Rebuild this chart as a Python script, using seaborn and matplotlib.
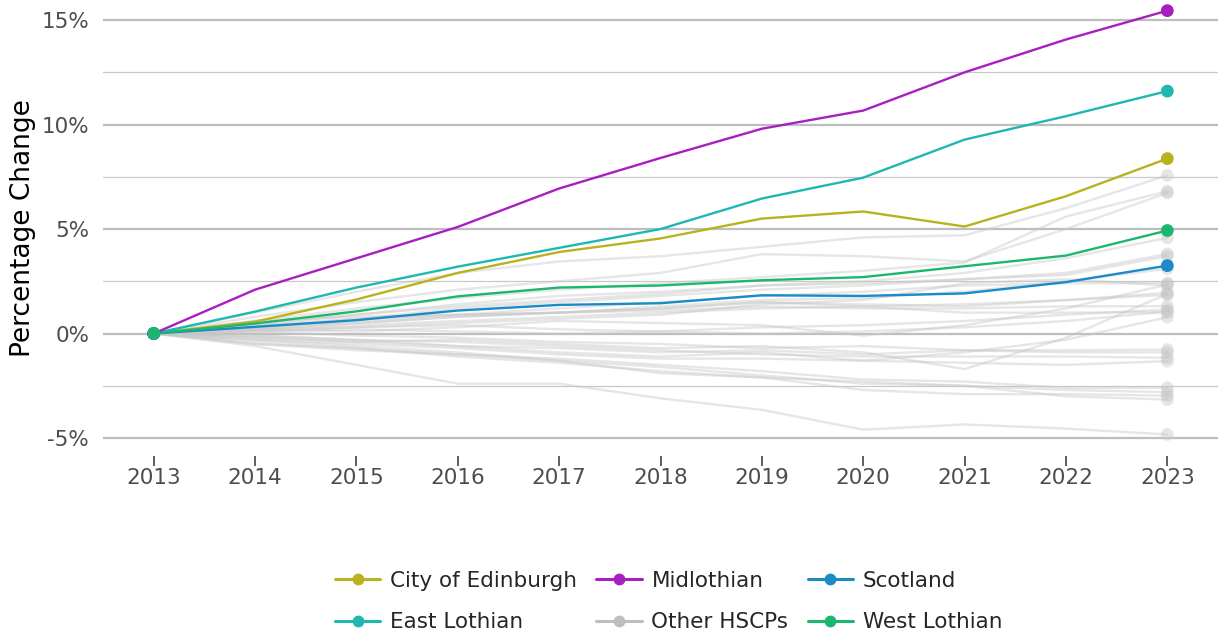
import pandas as pd
import matplotlib.pyplot as plt
import seaborn as sns
from matplotlib.lines import Line2D
from matplotlib.ticker import FuncFormatter, MultipleLocator

# Percentage change since 2013
years = list(range(2013, 2024))

city_of_edinburgh = [0, 0.57, 1.63, 2.9, 3.9, 4.55, 5.5, 5.84, 5.12, 6.57, 8.37]
east_lothian = [0, 1.05, 2.2, 3.2, 4.1, 5.0, 6.46, 7.46, 9.28, 10.4, 11.6]
midlothian = [0, 2.1, 3.6, 5.1, 6.94, 8.4, 9.8, 10.67, 12.5, 14.07, 15.45]
scotland = [0, 0.32, 0.64, 1.1, 1.37, 1.45, 1.83, 1.8, 1.92, 2.46, 3.25]
west_lothian = [0, 0.48, 1.06, 1.78, 2.2, 2.3, 2.55, 2.7, 3.22, 3.73, 4.93]

# other HSCPs
other_hscps = [
    [0, 1.0, 2.0, 2.9, 3.45, 3.7, 4.15, 4.6, 4.7, 6.0, 7.57],
    [0, 0.8, 1.5, 2.1, 2.5, 2.9, 3.8, 3.7, 3.45, 5.0, 6.73],
    [0, 0.6, 1.2, 1.7, 2.1, 2.4, 2.7, 3.0, 3.4, 5.6, 6.81],
    [0, 0.4, 0.9, 1.4, 1.8, 2.0, 2.3, 2.5, 2.9, 3.6, 4.58],
    [0, 0.3, 0.7, 1.2, 1.5, 1.8, 2.1, 2.3, 2.6, 2.9, 3.81],
    [0, 0.5, 0.9, 1.3, 1.6, 1.9, 2.3, 2.4, 2.6, 2.8, 3.70],
    [0, 0.2, 0.5, 0.8, 1.0, 1.3, 1.6, 1.7, 2.0, 2.5, 3.1],
    [0, 0.3, 0.6, 0.9, 1.2, 1.5, 1.8, 2.0, 2.3, 2.4, 2.42],
    [0, 0.1, 0.3, 0.5, 0.7, 0.9, 1.4, 1.6, 2.4, 2.6, 2.3],
    [0, 0.2, 0.4, 0.6, 0.8, 1.0, 1.2, 1.3, 1.4, 1.6, 1.95],
    [0, -0.2, -0.4, -0.3, -0.5, -0.7, -0.6, -0.9, -1.7, -0.2, 1.9],
    [0, 0.4, 0.7, 0.9, 1.0, 1.1, 1.3, 1.2, 1.2, 1.3, 1.31],
    [0, 0.1, 0.2, 0.1, 0.0, 0.1, 0.3, 0.4, 0.6, 0.9, 1.15],
    [0, 0.3, 0.5, 0.8, 1.0, 1.2, 1.5, 1.3, 1.0, 1.0, 1.02],
    [0, -0.1, -0.3, -0.6, -0.9, -1.1, -0.9, -1.3, -0.9, -0.3, 0.78],
    [0, -0.2, -0.4, -0.6, -0.7, -0.9, -0.8, -1.0, -0.8, -0.8, -0.77],
    [0, -0.1, -0.3, -0.4, -0.6, -0.8, -1.0, -1.1, -1.1, -1.1, -1.16],
    [0, -0.3, -0.5, -0.7, -1.0, -1.2, -1.2, -1.3, -1.4, -1.5, -1.32],
    [0, -0.5, -0.8, -1.0, -1.2, -1.5, -1.8, -2.2, -2.3, -2.6, -2.6],
    [0, -0.4, -0.7, -1.0, -1.3, -1.6, -2.0, -2.4, -2.5, -2.7, -2.81],
    [0, -0.5, -0.7, -1.1, -1.4, -1.8, -2.1, -2.7, -2.9, -2.9, -2.97],
    [0, -0.3, -0.6, -0.9, -1.3, -1.9, -2.1, -2.3, -2.5, -3.0, -3.16],
    [0, -0.6, -1.5, -2.4, -2.4, -3.1, -3.65, -4.6, -4.35, -4.55, -4.83],
    [0, 0.6, 0.8, 0.9, 1.0, 1.2, 1.5, 1.4, 1.3, 1.6, 1.85],
    [0, 0.2, 0.1, 0.3, 0.6, 0.5, 0.4, -0.1, 0.4, 1.2, 2.35],
    [0, 0.1, -0.1, -0.2, -0.4, -0.5, -0.7, -0.6, -0.8, -0.9, -0.9],
    [0, 0.2, 0.3, 0.4, 0.2, 0.1, 0.0, 0.1, 0.3, 0.6, 1.05],
]

highlight = {
    'City of Edinburgh': city_of_edinburgh,
    'East Lothian': east_lothian,
    'Midlothian': midlothian,
    'Scotland': scotland,
    'West Lothian': west_lothian,
}
colours = {
    'City of Edinburgh': '#B9B21E',
    'East Lothian': '#1EB8B0',
    'Midlothian': '#A81EC0',
    'Scotland': '#1A8BC6',
    'West Lothian': '#1DB66F',
    'Other HSCPs': '#BEBEBE',
}

rows = []
for i, vals in enumerate(other_hscps):
    for y, v in zip(years, vals):
        rows.append({'Year': y, 'Area': f'HSCP {i}', 'Value': v})
grey_df = pd.DataFrame(rows)

rows = []
for name, vals in highlight.items():
    for y, v in zip(years, vals):
        rows.append({'Year': y, 'Area': name, 'Value': v})
hl_df = pd.DataFrame(rows)

sns.set_theme(style='white')
plt.rcParams['font.family'] = ['DejaVu Sans']

fig = plt.figure(figsize=(12.18, 6.35), dpi=100)
ax = fig.add_axes([0.0846, 0.2819, 0.9154, 0.7181])

# grey lines behind
sns.lineplot(data=grey_df, x='Year', y='Value', units='Area', estimator=None,
             color='#C8C8C8', alpha=0.45, linewidth=1.7, ax=ax, legend=False)
grey_end = grey_df[grey_df['Year'] == 2023]
sns.scatterplot(data=grey_end, x='Year', y='Value', color='#C8C8C8', alpha=0.45,
                s=85, edgecolor='none', ax=ax, legend=False)

sns.lineplot(data=hl_df, x='Year', y='Value', hue='Area', palette=colours,
             linewidth=1.7, ax=ax, legend=False)
ends = hl_df[hl_df['Year'].isin([2013, 2023])]
sns.scatterplot(data=ends, x='Year', y='Value', hue='Area', palette=colours,
                s=85, edgecolor='none', ax=ax, legend=False, zorder=5, clip_on=False)

ax.set_xlim(2012.5, 2023.5)
ax.set_ylim(-5.86, 15.96)
ax.set_xticks(years)
ax.yaxis.set_major_locator(MultipleLocator(5))
ax.yaxis.set_minor_locator(MultipleLocator(2.5))
ax.yaxis.set_major_formatter(FuncFormatter(lambda v, p: f'{v:.0f}%'))
ax.grid(axis='y', which='major', color='#BEBEBE', linewidth=1.6)
ax.grid(axis='y', which='minor', color='#C8C8C8', linewidth=0.9)
ax.grid(axis='x', visible=False)
ax.set_axisbelow(True)
for s in ax.spines.values():
    s.set_visible(False)
ax.tick_params(axis='x', which='major', bottom=True, length=7, width=1.1,
               color='#333333', labelsize=15.5, labelcolor='#4D4D4D', pad=2)
ax.tick_params(axis='y', which='both', left=False, labelsize=15.5, labelcolor='#4D4D4D', pad=4)
ax.set_xlabel('')
ax.set_ylabel('Percentage Change', fontsize=19, color='black', labelpad=4)

order = ['City of Edinburgh', 'East Lothian', 'Midlothian', 'Other HSCPs', 'Scotland', 'West Lothian']
handles = [Line2D([0], [0], color=colours[n], marker='o', markersize=7.5, linewidth=2.2) for n in order]
fig.legend(handles, order, loc='lower center', bbox_to_anchor=(0.549, -0.026), ncol=3,
           frameon=False, fontsize=15.5, handlelength=2.1, columnspacing=0.9,
           labelspacing=1.0, handletextpad=0.45)

fig.savefig('out.png', dpi=100)
